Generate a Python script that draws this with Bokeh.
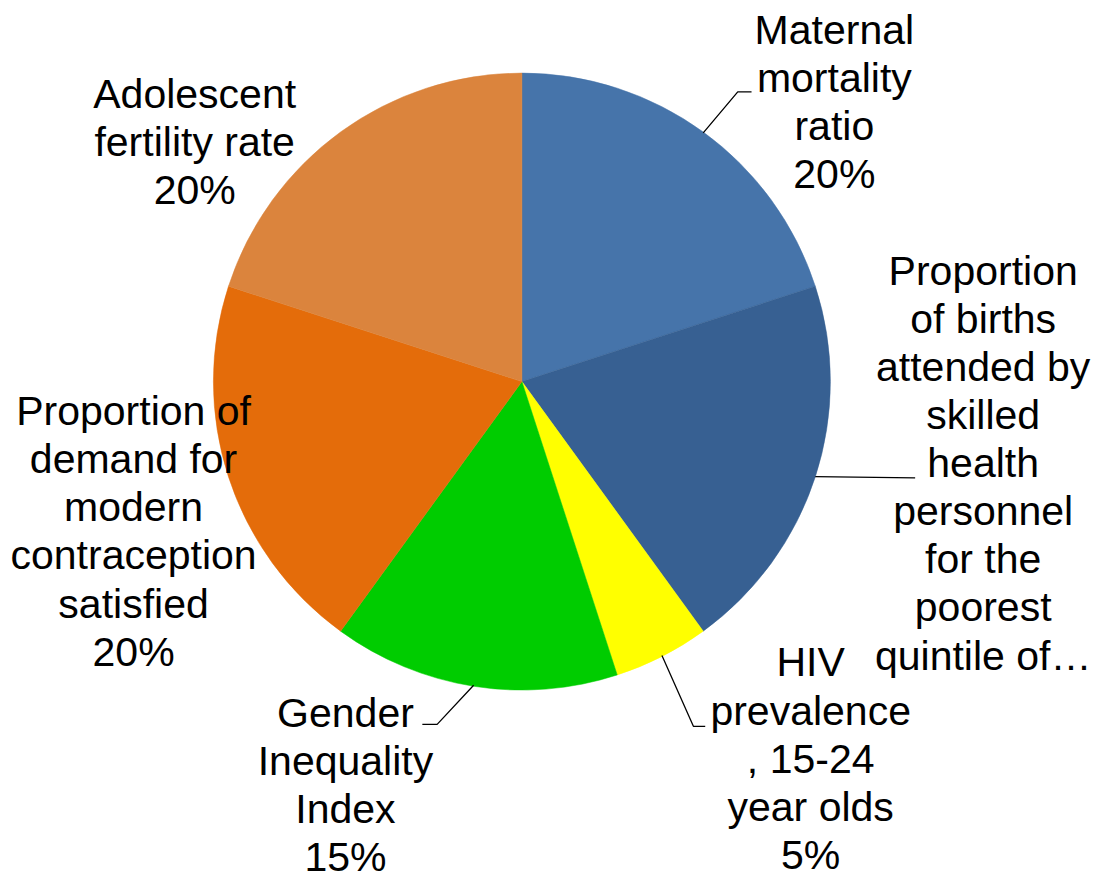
import math
from bokeh.plotting import figure
from bokeh.models import Range1d
from bokeh.core.properties import value
from bokeh.embed import file_html
from bokeh.resources import INLINE

# ---- data ----
categories = [
    "Maternal mortality ratio",
    "Proportion of births attended by skilled health personnel for the poorest quintile of…",
    "HIV prevalence, 15-24 year olds",
    "Gender Inequality Index",
    "Proportion of demand for modern contraception satisfied",
    "Adolescent fertility rate",
]
label_lines = [
    ["Maternal", "mortality", "ratio"],
    ["Proportion", "of births", "attended by", "skilled", "health", "personnel", "for the", "poorest", "quintile of…"],
    ["HIV", "prevalence", ", 15-24", "year olds"],
    ["Gender", "Inequality", "Index"],
    ["Proportion of", "demand for", "modern", "contraception", "satisfied"],
    ["Adolescent", "fertility rate"],
]
shares = [20, 20, 5, 15, 20, 20]
show_pct = [True, False, True, True, True, True]
colors = ["#4674AA", "#376092", "#FFFF00", "#00CC00", "#E46C0A", "#DB843D"]

# ---- layout (reference pixel coords, y measured downward) ----
W, H = 1097, 879
REF_W, REF_H = 1113, 895
cx, cy, R = 529, 388, 313
font_px = 41
line_h = 49.0
label_pos = [(846, 30), (997, 275), (822, 674), (350, 725), (135, 418), (197, 95)]
leaders = [
    [(748, 93), (762, 93)],
    [(928, 486)],
    [(703, 739), (715, 739)],
    [(443, 737), (428, 737)],
    None,
    None,
]

def Y(y):
    return REF_H - y

p = figure(width=W, height=H, output_backend="svg", toolbar_location=None,
           x_range=Range1d(0, REF_W), y_range=Range1d(0, REF_H),
           min_border=0)
p.axis.visible = False
p.grid.visible = False
p.outline_line_color = None
p.background_fill_color = "white"
p.border_fill_color = "white"

total = sum(shares)
cum = 0.0
for i, s in enumerate(shares):
    a0 = math.pi / 2 - 2 * math.pi * cum / total
    a1 = math.pi / 2 - 2 * math.pi * (cum + s) / total
    p.wedge(x=[cx], y=[Y(cy)], radius=R, start_angle=a0, end_angle=a1,
            direction="clock", fill_color=colors[i], line_color=colors[i], line_width=0.5)
    amid = (a0 + a1) / 2
    if leaders[i]:
        xs = [cx + R * math.cos(amid)] + [pt[0] for pt in leaders[i]]
        ys = [Y(cy) + R * math.sin(amid)] + [Y(pt[1]) for pt in leaders[i]]
        p.line(xs, ys, line_color="black", line_width=1.3)
    cum += s

for i, lines in enumerate(label_lines):
    allines = lines + ([f"{shares[i]}%"] if show_pct[i] else [])
    lx, ly = label_pos[i]
    xs = [lx] * len(allines)
    ys = [Y(ly + k * line_h) for k in range(len(allines))]
    p.text(x=xs, y=ys, text=allines, text_align="center", text_baseline="middle",
           text_font=value("Liberation Sans"), text_font_size=f"{font_px}px",
           text_color="black")

open("out.html", "w").write(file_html(p, INLINE))
